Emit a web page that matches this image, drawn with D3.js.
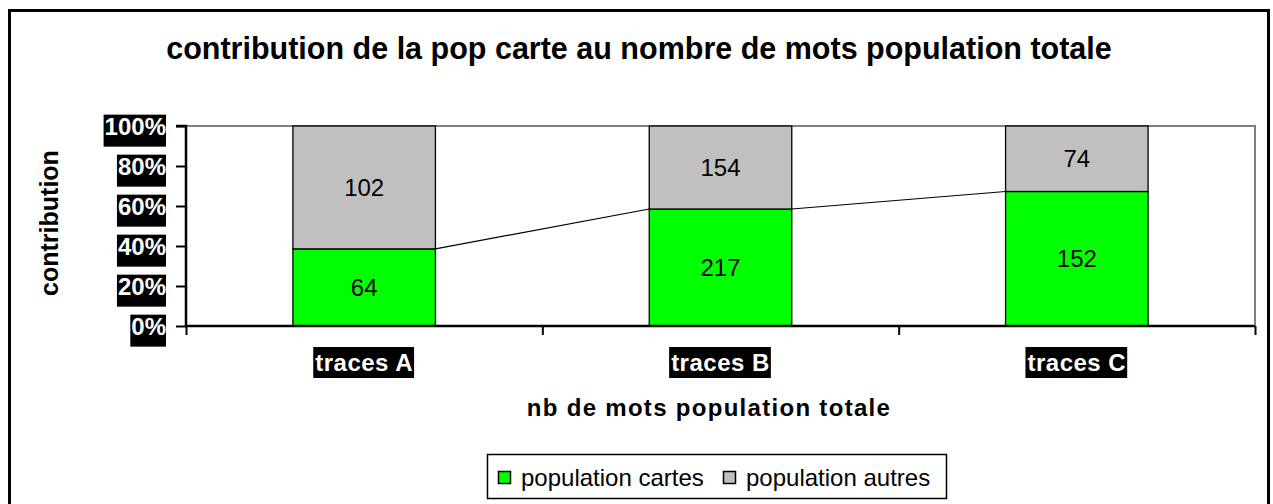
<!DOCTYPE html>
<html>
<head>
<meta charset="utf-8">
<script src="https://cdn.jsdelivr.net/npm/d3@7"></script>
<style>
  html, body { margin: 0; padding: 0; background: #fff; }
  svg { display: block; }
  text { font-family: "Liberation Sans", Arial, sans-serif; }
</style>
</head>
<body>
<svg id="chart" width="1273" height="504"></svg>
<script>
// Word counts per trace group
const categories = ["traces A", "traces B", "traces C"];
const cartesValues = [64, 217, 152];
const autresValues = [102, 154, 74];
const seriesNames = ["population cartes", "population autres"];
const seriesColors = ["#00ff00", "#c0c0c0"];
const yTickValues = [0, 0.2, 0.4, 0.6, 0.8, 1];
const yTickLabels = ["0%", "20%", "40%", "60%", "80%", "100%"];

const svg = d3.select("#chart");

// Frame around the whole chart
svg.append("rect")
  .attr("x", 9.5).attr("y", 10.5)
  .attr("width", 1259).attr("height", 510)
  .attr("fill", "none").attr("stroke", "#000").attr("stroke-width", 3);

const plot = { left: 186, right: 1255, top: 126, bottom: 326 };

const x = d3.scaleBand()
  .domain(categories)
  .range([plot.left, plot.right])
  .paddingInner(0.6)
  .paddingOuter(0.3);

const y = d3.scaleLinear().domain([0, 1]).range([plot.bottom, plot.top]);

// Plot area border (grey top and right)
svg.append("path")
  .attr("d", `M${plot.left},${plot.top}H${plot.right}V${plot.bottom}`)
  .attr("fill", "none").attr("stroke", "#808080").attr("stroke-width", 2);

// Stacked, normalised data
const rows = categories.map((c, i) => ({ cat: c, cartes: cartesValues[i], autres: autresValues[i] }));
const stack = d3.stack().keys(["cartes", "autres"]).offset(d3.stackOffsetExpand);
const layers = stack(rows);

const gBars = svg.append("g");
layers.forEach((layer, li) => {
  gBars.selectAll(null)
    .data(layer)
    .join("rect")
    .attr("x", d => x(d.data.cat))
    .attr("y", d => y(d[1]))
    .attr("width", x.bandwidth())
    .attr("height", d => y(d[0]) - y(d[1]))
    .attr("fill", seriesColors[li])
    .attr("stroke", "#000")
    .attr("stroke-width", 1.3);

  gBars.selectAll(null)
    .data(layer)
    .join("text")
    .attr("x", d => x(d.data.cat) + x.bandwidth() / 2)
    .attr("y", d => (y(d[0]) + y(d[1])) / 2)
    .attr("dy", "0.36em")
    .attr("text-anchor", "middle")
    .attr("font-size", 24)
    .attr("fill", "#000")
    .text(d => d.data[layer.key]);
});

// Series lines joining the tops of the first series
const first = layers[0];
for (let i = 0; i < first.length - 1; i++) {
  const a = first[i], b = first[i + 1];
  svg.append("line")
    .attr("x1", x(a.data.cat) + x.bandwidth()).attr("y1", y(a[1]))
    .attr("x2", x(b.data.cat)).attr("y2", y(b[1]))
    .attr("stroke", "#000").attr("stroke-width", 1.2);
}

// Y axis
const yAxis = d3.axisLeft(y)
  .tickValues(yTickValues)
  .tickSize(10)
  .tickPadding(10)
  .tickFormat((d, i) => yTickLabels[i]);
const gy = svg.append("g")
  .attr("transform", `translate(${plot.left},0)`)
  .call(yAxis);
gy.select(".domain").attr("stroke", "#000").attr("stroke-width", 2.5)
  .attr("d", `M-10,${plot.top}H0V${plot.bottom}`);
gy.selectAll(".tick line").attr("stroke", "#000").attr("stroke-width", 2);
gy.selectAll(".tick text")
  .attr("font-family", '"Liberation Sans", Arial, sans-serif')
  .attr("font-size", 24).attr("font-weight", "bold")
  .attr("fill", "#fff")
  .attr("dy", "0.36em");
gy.selectAll(".tick").each(function () {
  const t = d3.select(this).select("text");
  const bb = t.node().getBBox();
  d3.select(this).insert("rect", "text")
    .attr("x", bb.x - 1).attr("y", bb.y + 1.5)
    .attr("width", bb.width + 1).attr("height", 32)
    .attr("fill", "#000");
});

// X axis with ticks on category boundaries
const xb = d3.scaleLinear().domain([0, categories.length]).range([plot.left, plot.right]);
const gx = svg.append("g")
  .attr("transform", `translate(0,${plot.bottom})`)
  .call(d3.axisBottom(xb).ticks(categories.length).tickSize(9).tickFormat(""));
gx.select(".domain").attr("stroke", "#000").attr("stroke-width", 2.5)
  .attr("d", `M${plot.left},0H${plot.right}`);
gx.selectAll(".tick line").attr("stroke", "#000").attr("stroke-width", 2);

// Category labels on black boxes
const gCat = svg.append("g");
categories.forEach(c => {
  const cx = x(c) + x.bandwidth() / 2;
  const t = gCat.append("text")
    .attr("x", cx).attr("y", 362)
    .attr("dy", "0.36em")
    .attr("text-anchor", "middle")
    .attr("font-size", 24).attr("font-weight", "bold")
    .attr("letter-spacing", 0.5)
    .attr("fill", "#fff")
    .text(c);
  const bb = t.node().getBBox();
  gCat.insert("rect", "text")
    .attr("x", bb.x - 2).attr("y", 347)
    .attr("width", bb.width + 3).attr("height", 31)
    .attr("fill", "#000");
});

// Titles
svg.append("text")
  .attr("x", 639).attr("y", 59)
  .attr("text-anchor", "middle")
  .attr("font-size", 30.5).attr("font-weight", "bold")
  .text("contribution de la pop carte au nombre de mots population totale");

svg.append("text")
  .attr("x", 709).attr("y", 416)
  .attr("text-anchor", "middle")
  .attr("font-size", 24).attr("font-weight", "bold")
  .attr("letter-spacing", 1.3)
  .text("nb de mots population totale");

svg.append("text")
  .attr("transform", "translate(58,223) rotate(-90)")
  .attr("text-anchor", "middle")
  .attr("font-size", 25).attr("font-weight", "bold")
  .text("contribution");

// Legend
const legend = svg.append("g");
legend.append("rect")
  .attr("x", 487.5).attr("y", 454.5)
  .attr("width", 459).attr("height", 44)
  .attr("fill", "#fff").attr("stroke", "#000").attr("stroke-width", 1.5);
const legendX = [498, 723];
seriesNames.forEach((name, i) => {
  legend.append("rect")
    .attr("x", legendX[i] + 0.5).attr("y", 471.5)
    .attr("width", 12).attr("height", 12)
    .attr("fill", seriesColors[i]).attr("stroke", "#000").attr("stroke-width", 1.5);
  legend.append("text")
    .attr("x", legendX[i] + 23).attr("y", 477)
    .attr("dy", "0.36em")
    .attr("font-size", 24)
    .text(name);
});
</script>
</body>
</html>
